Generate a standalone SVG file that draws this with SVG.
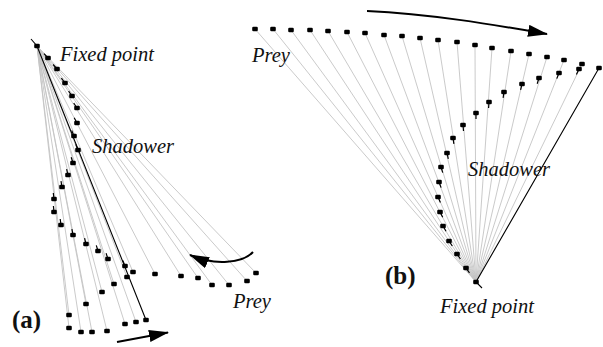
<svg xmlns="http://www.w3.org/2000/svg" xmlns:xlink="http://www.w3.org/1999/xlink" width="603" height="347" viewBox="0 0 603 347">
<style>
.ray{stroke:#c4c4c4;stroke-width:0.9;fill:none}
.path{stroke:#000;stroke-width:1.1;fill:none}
.tail{stroke:#000;stroke-width:1.2;fill:none}
.arr{stroke:#000;stroke-width:2;fill:none;marker-end:url(#ah)}
.lbl{font-family:"Liberation Serif","Times New Roman",serif;font-style:italic;font-size:20.5px;fill:#111}
.pl{font-family:"Liberation Serif","Times New Roman",serif;font-weight:bold;font-size:25px;fill:#111}
</style>
<defs>
<rect id="d" x="-2.8" y="-2.3" width="5.6" height="4.6" rx="1.3" fill="#000"/>
<marker id="ah" markerUnits="userSpaceOnUse" markerWidth="20" markerHeight="12" viewBox="0 0 20 12" refX="19" refY="6" orient="auto">
<path d="M0,0 L20,6 L0,12 z" fill="#000"/>
</marker>
</defs>
<rect width="603" height="347" fill="#fff"/>

<g id="panel-a">
<g id="a-rays">
<path class="ray" d="M37,46 L256,273 M37,46 L247,281 M37,46 L229,285 M37,46 L212,285 M37,46 L198,278 M37,46 L181,276 M37,46 L155,274 M37,46 L133,272 M37,46 L127,277 M37,46 L114,284 M37,46 L102,292 M37,46 L86,304 M37,46 L69,315 M37,46 L69,328 M37,46 L81,332 M37,46 L92,332 M37,46 L107,331 M37,46 L125,324 M37,46 L136,322"/>
<path class="path" d="M31,39 L37,46 L146,320"/>
</g>
<g id="a-shadower">
<path class="tail" d="M48,58 L44,53.6 M57,69 L53.1,64.5 M65,83 L61.4,78.2 M72,96 L68.6,91.1 M77,108 L73.7,103 M77,123 L74.2,117.7 M74,136 L71.7,130.4 M78,150 L75.8,144.4 M73,163 L71.2,157.3 M68,175 L66.6,169.2 M62,187 L61,181.1 M54,199 L53.3,193 M54,212 L53.4,206 M61,225 L60.2,219 M73,235 L71.9,229.1 M86,244 L84.6,238.2 M98,251 L96.3,245.3 M108,259 L106.1,253.3 M125,266 L122.8,260.4"/>
<use href="#d" x="37" y="46"/><use href="#d" x="48" y="58"/><use href="#d" x="57" y="69"/><use href="#d" x="65" y="83"/><use href="#d" x="72" y="96"/><use href="#d" x="77" y="108"/><use href="#d" x="77" y="123"/><use href="#d" x="74" y="136"/><use href="#d" x="78" y="150"/><use href="#d" x="73" y="163"/><use href="#d" x="68" y="175"/><use href="#d" x="62" y="187"/><use href="#d" x="54" y="199"/><use href="#d" x="54" y="212"/><use href="#d" x="61" y="225"/><use href="#d" x="73" y="235"/><use href="#d" x="86" y="244"/><use href="#d" x="98" y="251"/><use href="#d" x="108" y="259"/><use href="#d" x="125" y="266"/>
</g>
<g id="a-prey">
<use href="#d" x="256" y="273"/><use href="#d" x="247" y="281"/><use href="#d" x="229" y="285"/><use href="#d" x="212" y="285"/><use href="#d" x="198" y="278"/><use href="#d" x="181" y="276"/><use href="#d" x="155" y="274"/><use href="#d" x="133" y="272"/><use href="#d" x="127" y="277"/><use href="#d" x="114" y="284"/><use href="#d" x="102" y="292"/><use href="#d" x="86" y="304"/><use href="#d" x="69" y="315"/><use href="#d" x="69" y="328"/><use href="#d" x="81" y="332"/><use href="#d" x="92" y="332"/><use href="#d" x="107" y="331"/><use href="#d" x="125" y="324"/><use href="#d" x="136" y="322"/><use href="#d" x="146" y="320"/>
</g>
<g id="a-arrows">
<path class="arr" d="M253,252 C243,263 215,266 190,255"/>
<path class="arr" d="M117,342 L168,332.5"/>
</g>
<g id="a-labels">
<text class="lbl" x="60" y="61">Fixed point</text>
<text class="lbl" x="92" y="153">Shadower</text>
<text class="lbl" x="233" y="308">Prey</text>
<text class="pl" x="12" y="328">(a)</text>
</g>
</g>

<g id="panel-b">
<g id="b-rays">
<path class="ray" d="M476,282 L255,29 M476,282 L273,29 M476,282 L291,30 M476,282 L310,30 M476,282 L328,31 M476,282 L347,32 M476,282 L365,33 M476,282 L384,35 M476,282 L402,36 M476,282 L420,38 M476,282 L438,40 M476,282 L457,42 M476,282 L475,45 M476,282 L492,48 M476,282 L511,51 M476,282 L529,54 M476,282 L547,57 M476,282 L564,60 M476,282 L582,64"/>
<path class="path" d="M482,288 L476,282 L599,68"/>
</g>
<g id="b-shadower">
<path class="tail" d="M466,268 L469.5,272.9 M457,254 L460.4,259 M449,241 L452.3,246 M443,226 L446,231.2 M440,212 L442.7,217.3 M438,197 L440.4,202.5 M439,182 L441.1,187.6 M441,167 L442.7,172.7 M447,153 L448.3,158.9 M453,138 L453.9,143.9 M463,125 L463.5,131 M476,113 L476,119 M489,102 L488.6,108 M504,92 L503.1,97.9 M522,84 L520.6,89.8 M539,78 L537.2,83.7 M559,73 L556.8,78.6 M579,69 L576.4,74.4"/>
<use href="#d" x="476" y="282"/><use href="#d" x="466" y="268"/><use href="#d" x="457" y="254"/><use href="#d" x="449" y="241"/><use href="#d" x="443" y="226"/><use href="#d" x="440" y="212"/><use href="#d" x="438" y="197"/><use href="#d" x="439" y="182"/><use href="#d" x="441" y="167"/><use href="#d" x="447" y="153"/><use href="#d" x="453" y="138"/><use href="#d" x="463" y="125"/><use href="#d" x="476" y="113"/><use href="#d" x="489" y="102"/><use href="#d" x="504" y="92"/><use href="#d" x="522" y="84"/><use href="#d" x="539" y="78"/><use href="#d" x="559" y="73"/><use href="#d" x="579" y="69"/>
</g>
<g id="b-prey">
<use href="#d" x="255" y="29"/><use href="#d" x="273" y="29"/><use href="#d" x="291" y="30"/><use href="#d" x="310" y="30"/><use href="#d" x="328" y="31"/><use href="#d" x="347" y="32"/><use href="#d" x="365" y="33"/><use href="#d" x="384" y="35"/><use href="#d" x="402" y="36"/><use href="#d" x="420" y="38"/><use href="#d" x="438" y="40"/><use href="#d" x="457" y="42"/><use href="#d" x="475" y="45"/><use href="#d" x="492" y="48"/><use href="#d" x="511" y="51"/><use href="#d" x="529" y="54"/><use href="#d" x="547" y="57"/><use href="#d" x="564" y="60"/><use href="#d" x="582" y="64"/><use href="#d" x="599" y="68"/>
</g>
<g id="b-arrows">
<path class="arr" d="M367,11 C430,14 490,24 547,34"/>
</g>
<g id="b-labels">
<text class="lbl" x="252" y="62">Prey</text>
<text class="lbl" x="468" y="176">Shadower</text>
<text class="lbl" x="440" y="313">Fixed point</text>
<text class="pl" x="385" y="284">(b)</text>
</g>
</g>
</svg>
